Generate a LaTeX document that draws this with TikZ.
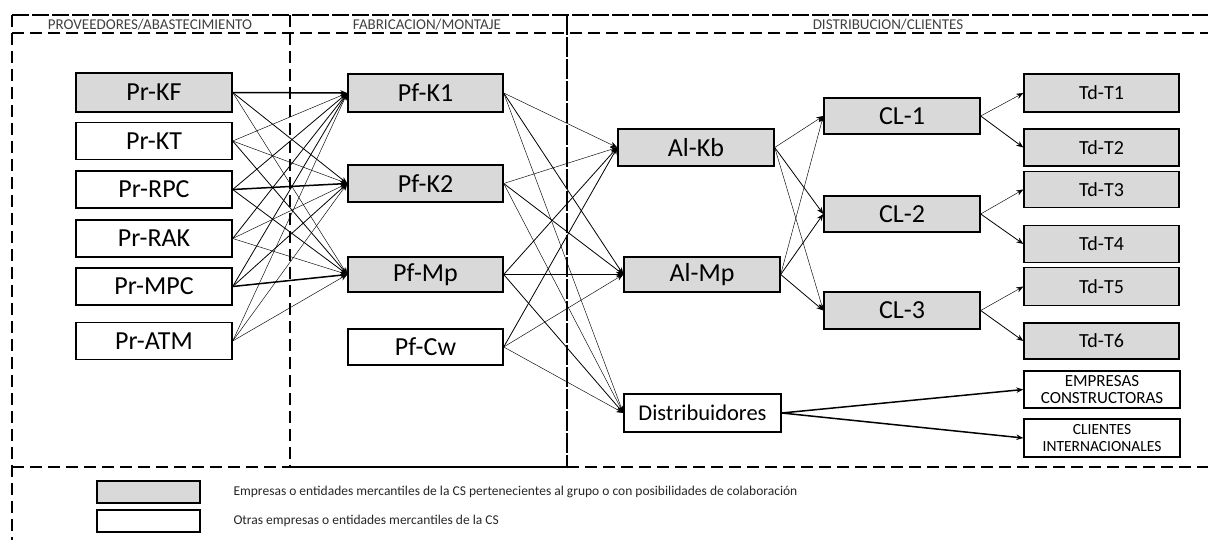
\documentclass[tikz,border=0pt]{standalone}
\usepackage{fontspec}
\setmainfont{Carlito}
\usetikzlibrary{arrows.meta}
\definecolor{boxgray}{RGB}{217,217,217}
\begin{document}
\begin{tikzpicture}[x=1pt,y=-1pt,
  entity/.style={draw=black, line width=1.4pt, inner sep=0pt, minimum height=37pt,
                 font=\fontsize{26}{27}\selectfont},
  partner/.style={entity, fill=boxgray},
  other/.style={entity, fill=white},
  link/.style={-{Stealth[length=7pt,width=5.5pt]}, line width=0.8pt},
  thinlink/.style={link, line width=0.45pt},
  boldlink/.style={link, line width=1.5pt},
  framedash/.style={line width=1.8pt, dash pattern=on 12pt off 6pt},
  headline/.style={line width=1.4pt, dash pattern=on 12pt off 6pt},
  header/.style={font=\fontsize{15}{15}\selectfont, text=black!75, anchor=base},
  legendtxt/.style={font=\fontsize{13.5}{14}\selectfont, anchor=west, text=black!85}
]
\useasboundingbox (0,0) rectangle (1208,540);

% ---- stage frames ----
\draw[line width=2pt, dash pattern=on 17pt off 3pt] (12,15) -- (1208,15);
\draw[headline] (12,33) -- (1208,33);
\draw[framedash] (12,15) -- (12,540);
\draw[framedash] (290,15) -- (290,467);
\draw[line width=1.8pt, dash pattern=on 20pt off 2pt] (567,15) -- (567,467);
\draw[framedash] (12,467) -- (290,467);
\draw[line width=1.2pt] (290,467) -- (567,467);
\draw[framedash] (567,467) -- (1208,467);

\node[header] (hprov) at (150,30) {PROVEEDORES/ABASTECIMIENTO};
\node[header] (hfab) at (427,30) {FABRICACION/MONTAJE};
\node[header] (hdist) at (888,30) {DISTRIBUCION/CLIENTES};

% ---- suppliers ----
\node[partner, minimum width=156pt, minimum height=39pt] (prkf) at (154,92.5) {Pr-KF};
\node[other, minimum width=156pt] (prkt) at (154,141) {Pr-KT};
\node[other, minimum width=156pt] (prrpc) at (154,189.5) {Pr-RPC};
\node[other, minimum width=156pt] (prrak) at (154,238.5) {Pr-RAK};
\node[other, minimum width=156pt] (prmpc) at (154,286.5) {Pr-MPC};
\node[other, minimum width=156pt] (pratm) at (154,341) {Pr-ATM};

% ---- manufacturing ----
\node[partner, minimum width=155pt, minimum height=38pt] (pfk1) at (425.5,93) {Pf-K1};
\node[partner, minimum width=155pt] (pfk2) at (425.5,183.5) {Pf-K2};
\node[partner, minimum width=155pt, minimum height=35pt] (pfmp) at (425.5,274.5) {Pf-Mp};
\node[other, minimum width=155pt, minimum height=36pt] (pfcw) at (425.5,347) {Pf-Cw};

% ---- warehouses and distribution ----
\node[partner, minimum width=156pt] (alkb) at (696,147.5) {Al-Kb};
\node[partner, minimum width=156pt, minimum height=35pt] (almp) at (702,274.5) {Al-Mp};
\node[other, minimum width=157pt, minimum height=38pt, font=\fontsize{22.5}{24}\selectfont] (dist) at (702.5,413) {Distribuidores};

\node[partner, minimum width=156pt, minimum height=36pt] (cl1) at (902,116) {CL-1};
\node[partner, minimum width=156pt, minimum height=36pt] (cl2) at (902,214) {CL-2};
\node[partner, minimum width=156pt] (cl3) at (902,310.5) {CL-3};

\tikzset{tdbox/.style={partner, minimum width=155pt, font=\fontsize{20}{21}\selectfont}}
\node[tdbox, minimum height=38pt] (td1) at (1101.5,93) {Td-T1};
\node[tdbox] (td2) at (1101.5,147.5) {Td-T2};
\node[tdbox, minimum height=36pt] (td3) at (1101.5,189.5) {Td-T3};
\node[tdbox] (td4) at (1101.5,244) {Td-T4};
\node[tdbox, minimum height=38pt] (td5) at (1101.5,286.5) {Td-T5};
\node[tdbox, minimum height=36pt] (td6) at (1101.5,341) {Td-T6};

\node[other, minimum width=156pt, align=center, font=\fontsize{17}{17}\selectfont] (emp) at (1102,389.5) {EMPRESAS\\CONSTRUCTORAS};
\node[other, minimum width=156pt, minimum height=38pt, align=center, font=\fontsize{15.5}{16.5}\selectfont] (cli) at (1102,438) {CLIENTES\\INTERNACIONALES};

% ---- supplier links ----
\draw[boldlink] (prkf.east) -- (pfk1.west);
\draw[link] (prkf.east) -- (pfk2.west);
\draw[thinlink] (prkf.east) -- (pfmp.west);
\draw[thinlink] (prkt.east) -- (pfk1.west);
\draw[thinlink] (prkt.east) -- (pfk2.west);
\draw[link] (prkt.east) -- (pfmp.west);
\draw[link] (prrpc.east) -- (pfk1.west);
\draw[boldlink] (prrpc.east) -- (pfk2.west);
\draw[link] (prrpc.east) -- (pfmp.west);
\draw[link] (prrak.east) -- (pfk1.west);
\draw[thinlink] (prrak.east) -- (pfk2.west);
\draw[thinlink] (prrak.east) -- (pfmp.west);
\draw[link] (prmpc.east) -- (pfk1.west);
\draw[link] (prmpc.east) -- (pfk2.west);
\draw[boldlink] (prmpc.east) -- (pfmp.west);
\draw[thinlink] (pratm.east) -- (pfk1.west);
\draw[thinlink] (pratm.east) -- (pfk2.west);
\draw[thinlink] (pratm.east) -- (pfmp.west);

% ---- manufacturing links ----
\draw[thinlink] (pfk1.east) -- (alkb.west);
\draw[link] (pfk1.east) -- (almp.west);
\draw[thinlink] (pfk1.east) -- (dist.west);
\draw[thinlink] (pfk2.east) -- (alkb.west);
\draw[link] (pfk2.east) -- (almp.west);
\draw[thinlink] (pfk2.east) -- (dist.west);
\draw[link] (pfmp.east) -- (alkb.west);
\draw[boldlink] (pfmp.east) -- (almp.west);
\draw[link] (pfmp.east) -- (dist.west);
\draw[link] (pfcw.east) -- (alkb.west);
\draw[thinlink] (pfcw.east) -- (almp.west);
\draw[thinlink] (pfcw.east) -- (dist.west);

% ---- warehouse links ----
\draw[thinlink] (alkb.east) -- (cl1.west);
\draw[link] (alkb.east) -- (cl2.west);
\draw[thinlink] (alkb.east) -- (cl3.west);
\draw[thinlink] (almp.east) -- (cl1.west);
\draw[link] (almp.east) -- (cl2.west);
\draw[link] (almp.east) -- (cl3.west);

\draw[thinlink] (cl1.east) -- (td1.west);
\draw[link] (cl1.east) -- (td2.west);
\draw[thinlink] (cl2.east) -- (td3.west);
\draw[link] (cl2.east) -- (td4.west);
\draw[thinlink] (cl3.east) -- (td5.west);
\draw[link] (cl3.east) -- (td6.west);

\draw[boldlink] (dist.east) -- (emp.west);
\draw[boldlink] (dist.east) -- (cli.west);

% ---- legend ----
\node[partner, minimum width=103pt, minimum height=22pt] (lgshared) at (148.5,492) {};
\node[other, minimum width=103pt, minimum height=22pt] (lgother) at (148.5,521) {};
\node[legendtxt] (lgsharedtxt) at (230,492) {Empresas o entidades mercantiles de la CS pertenecientes al grupo o con posibilidades de colaboración};
\node[legendtxt] (lgothertxt) at (230,521) {Otras empresas o entidades mercantiles de la CS};
\end{tikzpicture}
\end{document}
